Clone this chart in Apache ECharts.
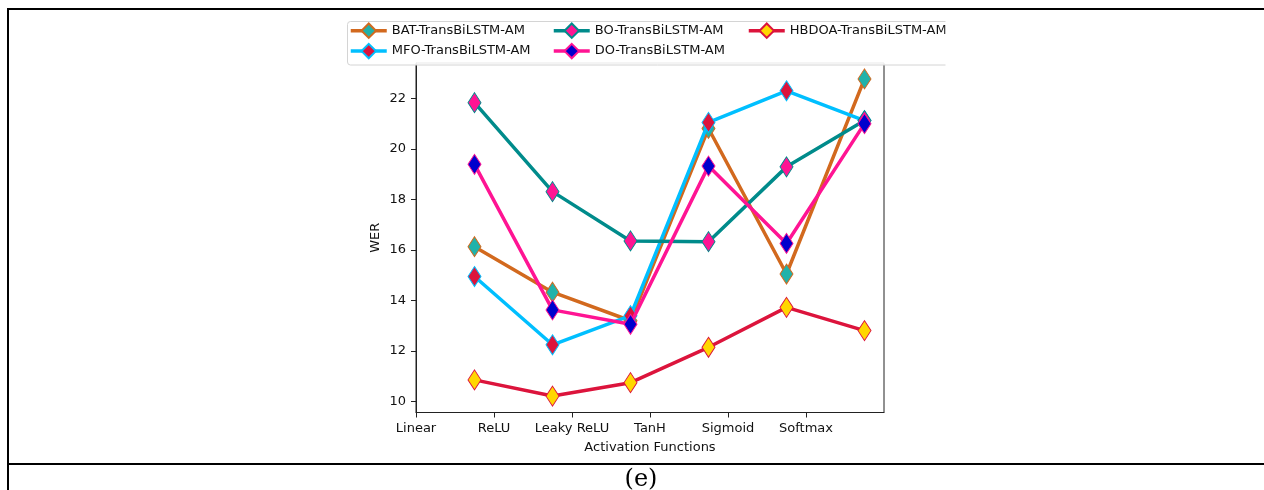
<!DOCTYPE html>
<html>
<head>
<meta charset="utf-8">
<title>WER vs activation functions</title>
<script src="https://cdn.jsdelivr.net/npm/echarts@6/dist/echarts.min.js"></script>
<style>
  html, body { margin: 0; padding: 0; background: #fff; }
  #chart { width: 1264px; height: 490px; }
</style>
</head>
<body>
<div id="chart"></div>
<script>
// tick labels along x (ticks at 0..5), points sit between ticks
const categories = ["Linear", "ReLU", "Leaky ReLU", "TanH", "Sigmoid", "Softmax"];
const pointPositions = [0.75, 1.75, 2.75, 3.75, 4.75, 5.75];
const yTicks = [10, 12, 14, 16, 18, 20, 22];

const seriesNames = [
  "BAT-TransBiLSTM-AM",
  "MFO-TransBiLSTM-AM",
  "BO-TransBiLSTM-AM",
  "DO-TransBiLSTM-AM",
  "HBDOA-TransBiLSTM-AM",
];
const batValues = [16.13, 14.33, 13.2, 20.81, 15.05, 22.77];
const mfoValues = [14.95, 12.25, 13.4, 21.05, 22.3, 21.12];
const boValues = [21.83, 18.31, 16.36, 16.33, 19.29, 21.12];
const doValues = [19.39, 13.63, 13.06, 19.32, 16.26, 21.0];
const hbdoaValues = [10.86, 10.22, 10.75, 12.15, 13.73, 12.81];

const lineColors = ["#d2691e", "#00bfff", "#008b8b", "#ff1493", "#dc143c"];
const markerColors = ["#20b2aa", "#dc143c", "#ff1493", "#0000cd", "#ffd700"];
const allValues = [batValues, mfoValues, boValues, doValues, hbdoaValues];

const font = "DejaVu Sans";

const chart = echarts.init(document.getElementById("chart"), null, { renderer: "canvas" });

const series = allValues.map((vals, i) => ({
  name: seriesNames[i],
  type: "line",
  data: vals.map((v, j) => [pointPositions[j], v]),
  symbol: "diamond",
  symbolSize: [13, 20],
  lineStyle: { color: lineColors[i], width: 3.5 },
  itemStyle: { color: markerColors[i], borderColor: lineColors[i], borderWidth: 1 },
  emphasis: { disabled: true },
  z: 2 + i * 0.01,
}));

const legendItems = seriesNames.map((name) => ({ name: name, lineStyle: { width: 3.5 } }));

const legendBase = {
  orient: "vertical",
  top: 22.5,
  padding: 0,
  itemWidth: 36,
  itemHeight: 18,
  itemGap: 4,
  selectedMode: false,
  textStyle: { fontFamily: font, fontSize: 13, color: "#111" },
};

chart.setOption({
  animation: false,
  backgroundColor: "#fff",
  grid: {
    left: 416,
    right: 380,
    top: 63,
    bottom: 77.5,
    show: true,
    borderColor: "#222",
    borderWidth: 1,
    backgroundColor: "transparent",
  },
  legend: [
    Object.assign({}, legendBase, { left: 349, data: legendItems.slice(0, 2) }),
    Object.assign({}, legendBase, { left: 552, data: legendItems.slice(2, 4) }),
    Object.assign({}, legendBase, { left: 747, data: legendItems.slice(4) }),
  ],
  xAxis: {
    type: "value",
    min: 0,
    max: 6,
    name: "Activation Functions",
    nameLocation: "middle",
    nameGap: 29,
    nameTextStyle: { fontFamily: font, fontSize: 13, color: "#111" },
    axisLine: { show: true, lineStyle: { color: "#222", width: 1 } },
    axisTick: { show: true, length: 5, customValues: categories.map((c, i) => i), lineStyle: { color: "#222" } },
    axisLabel: {
      customValues: categories.map((c, i) => i),
      formatter: (v) => categories[Math.round(v)],
      fontFamily: font,
      fontSize: 13,
      color: "#111",
      margin: 10,
    },
    splitLine: { show: false },
  },
  yAxis: {
    type: "value",
    min: 9.57,
    max: 23.4,
    name: "WER",
    nameLocation: "middle",
    nameGap: 34,
    nameTextStyle: { fontFamily: font, fontSize: 13, color: "#111" },
    axisLine: { show: true, lineStyle: { color: "#222", width: 1 } },
    axisTick: { show: true, length: 5, customValues: yTicks, lineStyle: { color: "#222" } },
    axisLabel: {
      customValues: yTicks,
      fontFamily: font,
      fontSize: 13,
      color: "#111",
      margin: 10,
    },
    splitLine: { show: false },
  },
  graphic: [
    // legend frame (cut off on the right, like the source image)
    {
      type: "rect",
      z: 3,
      shape: { x: 347.5, y: 21.5, width: 620, height: 43.5, r: 3 },
      style: { fill: "rgba(255,255,255,0.9)", stroke: "#d4d4d4", lineWidth: 1 },
    },
    {
      type: "rect",
      z: 5,
      shape: { x: 945.5, y: 15, width: 40, height: 56 },
      style: { fill: "#fff" },
    },
    // table borders around the figure
    { type: "line", z: 6, shape: { x1: 7, y1: 9, x2: 1264, y2: 9 }, style: { stroke: "#000", lineWidth: 2 } },
    { type: "line", z: 6, shape: { x1: 8, y1: 8, x2: 8, y2: 490 }, style: { stroke: "#000", lineWidth: 2 } },
    { type: "line", z: 6, shape: { x1: 8, y1: 464, x2: 1264, y2: 464 }, style: { stroke: "#000", lineWidth: 2 } },
    {
      type: "text",
      z: 6,
      style: {
        text: "(e)",
        x: 641,
        y: 480,
        align: "center",
        verticalAlign: "middle",
        font: "24px 'DejaVu Serif'",
        fill: "#000",
      },
    },
  ],
  series: series,
});
</script>
</body>
</html>
